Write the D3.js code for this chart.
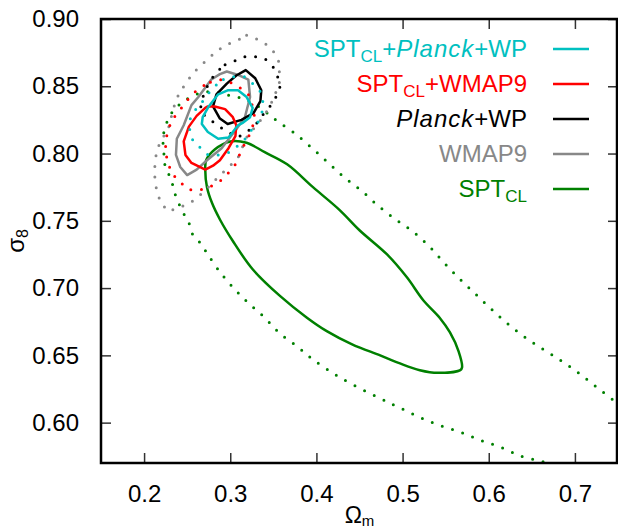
<!DOCTYPE html>
<html>
<head>
<script src="https://cdn.jsdelivr.net/npm/d3@7"></script>
<style>
    body { margin: 0; background: #fff; }
    text { font-family: "Liberation Sans", Arial, Helvetica, sans-serif; }
</style>
</head>
<body>
<div id="chart"></div>
<script>
// axis ticks
const xTicks = [0.2, 0.3, 0.4, 0.5, 0.6, 0.7];
const yTicks = [0.60, 0.65, 0.70, 0.75, 0.80, 0.85, 0.90];

// contours, [Omega_m, sigma_8]; "in" = 68%, "out" = 95%
const sptIn = [[0.300,0.809],[0.319,0.808],[0.340,0.801],[0.366,0.792],[0.396,0.775],[0.427,0.758],[0.450,0.743],[0.482,0.725],[0.505,0.708],[0.524,0.691],[0.543,0.678],[0.555,0.667],[0.565,0.653],[0.569,0.641],[0.567,0.639],[0.541,0.637],[0.520,0.639],[0.497,0.644],[0.474,0.650],[0.442,0.658],[0.412,0.668],[0.389,0.678],[0.358,0.694],[0.326,0.714],[0.303,0.735],[0.288,0.751],[0.279,0.763],[0.273,0.775],[0.271,0.788],[0.272,0.795],[0.282,0.803]];
const sptOut = [[0.663,0.571],[0.638,0.575],[0.613,0.582],[0.590,0.587],[0.567,0.593],[0.543,0.598],[0.520,0.604],[0.497,0.611],[0.474,0.618],[0.429,0.633],[0.396,0.647],[0.377,0.657],[0.358,0.666],[0.340,0.678],[0.321,0.689],[0.304,0.700],[0.288,0.712],[0.273,0.726],[0.266,0.733],[0.257,0.739],[0.253,0.747],[0.247,0.754],[0.237,0.768],[0.233,0.777],[0.229,0.784],[0.224,0.792],[0.223,0.800],[0.222,0.808],[0.223,0.816],[0.227,0.824],[0.233,0.831],[0.242,0.837],[0.251,0.841],[0.265,0.845],[0.277,0.846],[0.288,0.845],[0.300,0.843],[0.314,0.841],[0.335,0.834],[0.345,0.829],[0.355,0.824],[0.375,0.815],[0.395,0.804],[0.414,0.793],[0.433,0.782],[0.453,0.772],[0.472,0.761],[0.492,0.751],[0.512,0.742],[0.531,0.731],[0.548,0.719],[0.566,0.707],[0.584,0.696],[0.602,0.685],[0.621,0.674],[0.641,0.664],[0.662,0.655],[0.684,0.646],[0.704,0.637],[0.724,0.627],[0.744,0.617],[0.750,0.614]];

const wmapIn = [[0.296,0.861],[0.311,0.858],[0.321,0.855],[0.323,0.842],[0.317,0.827],[0.307,0.818],[0.290,0.804],[0.273,0.795],[0.261,0.788],[0.250,0.784],[0.242,0.790],[0.237,0.799],[0.238,0.811],[0.246,0.821],[0.255,0.836],[0.263,0.842],[0.278,0.855],[0.288,0.859]];
const wmapOut = [[0.319,0.888],[0.331,0.885],[0.342,0.881],[0.350,0.876],[0.356,0.869],[0.357,0.861],[0.357,0.852],[0.352,0.844],[0.346,0.835],[0.338,0.827],[0.329,0.820],[0.319,0.812],[0.309,0.797],[0.300,0.791],[0.290,0.785],[0.282,0.780],[0.273,0.774],[0.263,0.768],[0.253,0.763],[0.241,0.760],[0.228,0.757],[0.220,0.763],[0.215,0.771],[0.213,0.779],[0.212,0.786],[0.213,0.795],[0.215,0.803],[0.221,0.811],[0.228,0.818],[0.231,0.826],[0.237,0.840],[0.244,0.848],[0.257,0.860],[0.267,0.866],[0.277,0.872],[0.286,0.877],[0.296,0.881],[0.308,0.884]];

const planckIn = [[0.318,0.862],[0.329,0.856],[0.336,0.847],[0.335,0.839],[0.327,0.830],[0.313,0.825],[0.297,0.822],[0.288,0.826],[0.280,0.835],[0.284,0.844],[0.296,0.852],[0.307,0.858]];
const planckOut = [[0.294,0.866],[0.306,0.869],[0.317,0.872],[0.330,0.872],[0.341,0.870],[0.350,0.864],[0.355,0.857],[0.358,0.850],[0.353,0.842],[0.346,0.835],[0.338,0.829],[0.329,0.821],[0.319,0.816],[0.309,0.812],[0.294,0.817],[0.279,0.824],[0.265,0.831],[0.267,0.840],[0.274,0.851],[0.283,0.860]];

const sptWmapIn = [[0.274,0.835],[0.282,0.835],[0.294,0.833],[0.303,0.827],[0.307,0.821],[0.306,0.813],[0.298,0.804],[0.288,0.795],[0.280,0.791],[0.271,0.788],[0.255,0.793],[0.248,0.799],[0.246,0.809],[0.252,0.820],[0.261,0.828],[0.271,0.834]];
const sptWmapOut = [[0.277,0.853],[0.288,0.855],[0.300,0.853],[0.311,0.849],[0.321,0.844],[0.325,0.837],[0.328,0.828],[0.326,0.820],[0.321,0.812],[0.314,0.804],[0.306,0.792],[0.297,0.785],[0.289,0.780],[0.276,0.775],[0.265,0.773],[0.252,0.773],[0.243,0.778],[0.234,0.784],[0.228,0.792],[0.225,0.801],[0.225,0.810],[0.228,0.817],[0.232,0.825],[0.239,0.830],[0.248,0.838],[0.256,0.844],[0.265,0.849]];

const sptPlanckIn = [[0.297,0.847],[0.309,0.847],[0.319,0.842],[0.326,0.834],[0.323,0.827],[0.315,0.823],[0.309,0.821],[0.298,0.812],[0.286,0.811],[0.274,0.816],[0.267,0.822],[0.268,0.827],[0.275,0.835],[0.286,0.844]];
const sptPlanckOut = [[0.292,0.855],[0.303,0.857],[0.317,0.857],[0.326,0.852],[0.335,0.846],[0.338,0.838],[0.337,0.831],[0.332,0.823],[0.325,0.818],[0.319,0.812],[0.309,0.806],[0.299,0.801],[0.286,0.799],[0.274,0.799],[0.266,0.804],[0.257,0.809],[0.253,0.817],[0.253,0.825],[0.259,0.832],[0.267,0.838],[0.274,0.844],[0.280,0.849]];

// legend, top to bottom
const legendNames = [
    [["SPT"], ["CL", "sub"], ["+"], ["Planck", "it"], ["+WP"]],
    [["SPT"], ["CL", "sub"], ["+WMAP9"]],
    [["Planck", "it"], ["+WP"]],
    [["WMAP9"]],
    [["SPT"], ["CL", "sub"]]
];
const legendColors = ["#00c0c0", "#ff0000", "#000000", "#888888", "#008000"];

const series = [
    { inner: sptPlanckIn, outer: sptPlanckOut, color: legendColors[0] },
    { inner: sptWmapIn, outer: sptWmapOut, color: legendColors[1] },
    { inner: planckIn, outer: planckOut, color: legendColors[2] },
    { inner: wmapIn, outer: wmapOut, color: legendColors[3] },
    { inner: sptIn, outer: sptOut, color: legendColors[4], open: true, smooth: true }
];

const W = 618, H = 529;
const margin = { top: 19, right: 0, bottom: 66, left: 101 };
const width = W - margin.left - margin.right;
const height = H - margin.top - margin.bottom;

const svg = d3.select("#chart").append("svg")
    .attr("width", W)
    .attr("height", H);

const g = svg.append("g")
    .attr("transform", `translate(${margin.left},${margin.top})`);

const x = d3.scaleLinear().domain([0.15, 0.75]).range([0, width]);
const y = d3.scaleLinear().domain([0.57, 0.90]).range([height, 0]);

g.append("clipPath").attr("id", "clip")
    .append("rect").attr("width", width).attr("height", height);

// contours
const plot = g.append("g").attr("clip-path", "url(#clip)");
const closedLine = d3.line().x(d => x(d[0])).y(d => y(d[1])).curve(d3.curveLinearClosed);
const smoothClosed = d3.line().x(d => x(d[0])).y(d => y(d[1])).curve(d3.curveCatmullRomClosed.alpha(0.5));
const openLine = d3.line().x(d => x(d[0])).y(d => y(d[1])).curve(d3.curveCatmullRom.alpha(0.5));

// draw last legend entry first so the top entry sits on top
series.slice().reverse().forEach(s => {
    plot.append("path")
        .attr("d", s.open ? openLine(s.outer) : closedLine(s.outer))
        .attr("fill", "none")
        .attr("stroke", s.color)
        .attr("stroke-width", 3)
        .attr("stroke-linecap", "round")
        .attr("stroke-dasharray", "0 10.7");
    plot.append("path")
        .attr("d", s.smooth ? smoothClosed(s.inner) : closedLine(s.inner))
        .attr("fill", "none")
        .attr("stroke", s.color)
        .attr("stroke-width", 2.5)
        .attr("stroke-linejoin", "round");
});

// axes, ticks pointing inward
const tickLen = 10;
function styleAxis(sel) {
    sel.select(".domain").remove();
    sel.selectAll(".tick line").attr("stroke", "#333").attr("stroke-width", 1.5);
    sel.selectAll(".tick text")
        .attr("fill", "#000")
        .style("font-size", "24px")
        .style("font-family", "'Liberation Sans', Arial, sans-serif");
}

g.append("g")
    .attr("transform", `translate(0,${height})`)
    .call(d3.axisBottom(x).tickValues(xTicks).tickFormat(d3.format(".1f"))
        .tickSizeInner(-tickLen).tickSizeOuter(0).tickPadding(22))
    .call(styleAxis);

g.append("g")
    .call(d3.axisTop(x).tickValues(xTicks).tickFormat("")
        .tickSizeInner(-tickLen).tickSizeOuter(0))
    .call(styleAxis);

g.append("g")
    .call(d3.axisLeft(y).tickValues(yTicks).tickFormat(d3.format(".2f"))
        .tickSizeInner(-tickLen).tickSizeOuter(0).tickPadding(22))
    .call(styleAxis);

g.append("g")
    .attr("transform", `translate(${width},0)`)
    .call(d3.axisRight(y).tickValues(yTicks).tickFormat("")
        .tickSizeInner(-tickLen).tickSizeOuter(0))
    .call(styleAxis);

// frame
g.append("rect")
    .attr("x", 0).attr("y", 0)
    .attr("width", width - 1).attr("height", height)
    .attr("fill", "none")
    .attr("stroke", "#000")
    .attr("stroke-width", 2.5);

// axis titles
const xt = svg.append("text")
    .attr("x", margin.left + width / 2)
    .attr("y", 523)
    .attr("text-anchor", "middle")
    .style("font-size", "23px");
xt.append("tspan").text("\u03A9");
xt.append("tspan").attr("dy", 3).style("font-size", "15px").text("m");

const yt = svg.append("text")
    .attr("transform", `translate(24,${margin.top + height / 2}) rotate(-90)`)
    .attr("text-anchor", "middle")
    .style("font-size", "24px");
yt.append("tspan").text("\u03C3");
yt.append("tspan").attr("dy", 4).style("font-size", "16px").text("8");

// legend
const legend = svg.append("g");
legendNames.forEach((parts, i) => {
    const yy = 49 + i * 35;
    const t = legend.append("text")
        .attr("x", 527)
        .attr("y", yy + 8)
        .attr("text-anchor", "end")
        .attr("fill", legendColors[i])
        .style("font-size", "24px");
    let shifted = false;
    parts.forEach(p => {
        const ts = t.append("tspan").text(p[0]);
        if (p[1] === "sub") {
            ts.attr("dy", 5).style("font-size", "17px");
            shifted = true;
        } else if (shifted) {
            ts.attr("dy", -5);
            shifted = false;
        }
        if (p[1] === "it") ts.style("font-style", "italic").attr("letter-spacing", 1);
    });
    legend.append("line")
        .attr("x1", 553).attr("x2", 589)
        .attr("y1", yy).attr("y2", yy)
        .attr("stroke", legendColors[i])
        .attr("stroke-width", 2.5);
});
</script>
</body>
</html>
